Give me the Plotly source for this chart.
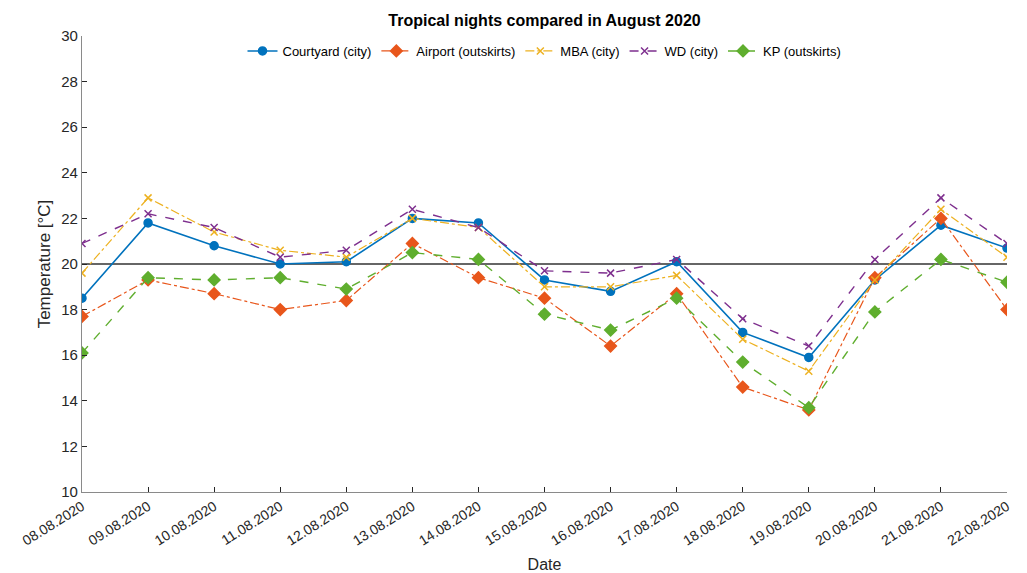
import plotly.graph_objects as go

dates = ["08.08.2020", "09.08.2020", "10.08.2020", "11.08.2020", "12.08.2020",
         "13.08.2020", "14.08.2020", "15.08.2020", "16.08.2020", "17.08.2020",
         "18.08.2020", "19.08.2020", "20.08.2020", "21.08.2020", "22.08.2020"]

courtyard = [18.5, 21.8, 20.8, 20.0, 20.1, 22.0, 21.8, 19.3, 18.8, 20.1, 17.0, 15.9, 19.3, 21.7, 20.7]
airport = [17.7, 19.3, 18.7, 18.0, 18.4, 20.9, 19.4, 18.5, 16.4, 18.7, 14.6, 13.6, 19.4, 22.0, 18.0]
mba = [19.6, 22.9, 21.4, 20.6, 20.3, 22.0, 21.6, 19.0, 19.0, 19.5, 16.7, 15.3, 19.3, 22.4, 20.3]
wd = [20.9, 22.2, 21.6, 20.3, 20.6, 22.4, 21.6, 19.7, 19.6, 20.2, 17.6, 16.4, 20.2, 22.9, 20.9]
kp = [16.1, 19.4, 19.3, 19.4, 18.9, 20.5, 20.2, 17.8, 17.1, 18.5, 15.7, 13.7, 17.9, 20.2, 19.2]

threshold = 20
y_ticks = [10, 12, 14, 16, 18, 20, 22, 24, 26, 28, 30]

series = [
    ("Courtyard (city)", courtyard, "#0072BD", "solid", "circle", 8, 1.6),
    ("Airport (outskirts)", airport, "#E8561B", "dashdot", "diamond", 9, 1.2),
    ("MBA (city)", mba, "#EDB120", "dashdot", "x-thin-open", 7, 1.2),
    ("WD (city)", wd, "#7E2F8E", "dash", "x-thin-open", 7, 1.4),
    ("KP (outskirts)", kp, "#5FAE2E", "dash", "diamond", 9, 1.4),
]

fig = go.Figure()
x_idx = list(range(len(dates)))
for name, vals, color, dash, symbol, size, width in series:
    fig.add_trace(go.Scatter(
        x=x_idx, y=vals, name=name, mode="lines+markers",
        line=dict(color=color, dash=dash, width=width),
        marker=dict(symbol=symbol, size=size, color=color,
                    line=dict(color=color, width=1.5)),
    ))

# 20 °C tropical-night threshold
fig.add_shape(type="line", xref="x", yref="y", x0=0, x1=len(dates) - 1,
              y0=threshold, y1=threshold, line=dict(color="#333333", width=1.3),
              layer="below")

font_family = "Liberation Sans, Arial, sans-serif"
fig.update_layout(
    width=1027, height=573,
    margin=dict(l=82, r=20, t=36, b=81),
    paper_bgcolor="white", plot_bgcolor="white",
    font=dict(family=font_family, color="#262626", size=14),
    title=dict(text="<b>Tropical nights compared in August 2020</b>",
               x=0.5, xref="paper", xanchor="center",
               y=0.965, yref="container", yanchor="middle",
               font=dict(size=16, color="#000000")),
    legend=dict(orientation="h", x=0.5, xanchor="center", y=1.0, yanchor="top",
                font=dict(size=13, color="#000000"), bgcolor="rgba(255,255,255,0)",
                itemwidth=30, tracegroupgap=0),
    showlegend=True,
)
fig.update_xaxes(
    range=[0, len(dates) - 1], tickmode="array", tickvals=x_idx, ticktext=dates,
    tickangle=-32, ticks="inside", ticklen=5, tickcolor="#262626",
    showline=True, linecolor="#8a8a8a", linewidth=1.2, showgrid=False, zeroline=False,
    tickfont=dict(size=14, color="#262626"), automargin=False,
    title=dict(text="Date", font=dict(size=16, color="#262626"), standoff=12),
)
fig.update_yaxes(
    range=[10, 30], tickmode="array", tickvals=y_ticks,
    ticks="inside", ticklen=5, tickcolor="#262626",
    showline=True, linecolor="#8a8a8a", linewidth=1.2, showgrid=False, zeroline=False,
    tickfont=dict(size=15, color="#262626"), automargin=False,
    title=dict(text="Temperature [°C]", font=dict(size=17, color="#262626"), standoff=6),
)

fig.write_html("out.html")
